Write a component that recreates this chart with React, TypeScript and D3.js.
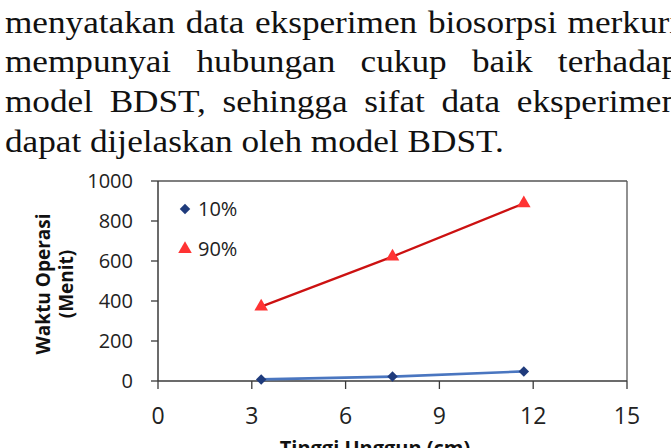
import React, { useLayoutEffect, useRef, useState } from "react";
import * as d3 from "d3";

// paragraph above the chart (justified, cut at the right edge)
const paraLines = [
  "menyatakan data eksperimen biosorpsi merkuri",
  "mempunyai hubungan cukup baik terhadap",
  "model BDST, sehingga sifat data eksperimen",
  "dapat dijelaskan oleh model BDST.",
];

// chart data
const bedHeights = [3.3, 7.5, 11.7];
const time10 = [8, 22, 48];
const time90 = [372, 622, 888];
const seriesNames = ["10%", "90%"];
const xTicks = [0, 3, 6, 9, 12, 15];
const yTicks = [0, 200, 400, 600, 800, 1000];

const W = 671;
const H = 448;
const SCALE_X = 1.1;
const TEXT_LEFT = 5;
const TEXT_RIGHT = 679;

const App: React.FC = () => {
  const lineRefs = useRef<(SVGTextElement | null)[]>([]);
  const [spacing, setSpacing] = useState<number[]>(paraLines.map(() => 0));

  // justify all lines but the last one
  useLayoutEffect(() => {
    const ws = paraLines.map((line, i) => {
      const el = lineRefs.current[i];
      if (!el || i === paraLines.length - 1) return 0;
      const natural = el.getComputedTextLength();
      const gaps = line.split(" ").length - 1;
      return Math.max(0, ((TEXT_RIGHT - TEXT_LEFT) / SCALE_X - natural) / gaps);
    });
    setSpacing(ws);
  }, []);

  const margin = { left: 158, right: 627, top: 181, bottom: 381 };
  const x = d3.scaleLinear().domain([0, 15]).range([margin.left, margin.right]);
  const y = d3.scaleLinear().domain([0, 1000]).range([margin.bottom, margin.top]);

  const line = d3
    .line<number>()
    .x((_, i) => x(bedHeights[i]))
    .y((d) => y(d));

  // excel-style diamond = square turned 45°
  const diamond = d3.symbol().type(d3.symbolSquare).size(55);
  const triangle = d3.symbol().type(d3.symbolTriangle).size(80);

  const axisColor = "#3a3a3a";
  const font = "'Open Sans', sans-serif";

  return (
    <svg
      width={W}
      height={H}
      style={{ position: "absolute", left: 0, top: 0, background: "#fff" }}
    >
      {/* paragraph */}
      {paraLines.map((t, i) => (
        <text
          key={i}
          ref={(el) => {
            lineRefs.current[i] = el;
          }}
          transform={`translate(${TEXT_LEFT},${32.5 + i * 39.8}) scale(${SCALE_X},1)`}
          fontFamily="'Liberation Serif', 'Times New Roman', serif"
          fontSize={32}
          fill="#111"
          wordSpacing={spacing[i]}
        >
          {t}
        </text>
      ))}

      {/* plot frame */}
      <line x1={margin.left} x2={margin.right} y1={margin.top} y2={margin.top} stroke="#555" strokeWidth={1.3} />
      <line x1={margin.right} x2={margin.right} y1={margin.top} y2={margin.bottom} stroke="#555" strokeWidth={1.3} />

      {/* y axis */}
      <line x1={margin.left} x2={margin.left} y1={margin.top} y2={margin.bottom} stroke={axisColor} strokeWidth={1.5} />
      {yTicks.map((t) => (
        <g key={t}>
          <line x1={margin.left - 7} x2={margin.left} y1={y(t)} y2={y(t)} stroke={axisColor} strokeWidth={1.3} />
          <text
            x={133}
            y={y(t)}
            dy="0.35em"
            textAnchor="end"
            fontFamily={font}
            fontSize={20}
            fill="#222"
          >
            {t}
          </text>
        </g>
      ))}

      {/* x axis */}
      <line x1={margin.left} x2={margin.right} y1={margin.bottom} y2={margin.bottom} stroke={axisColor} strokeWidth={1.5} />
      {xTicks.map((t) => (
        <g key={t}>
          <line x1={x(t)} x2={x(t)} y1={margin.bottom} y2={margin.bottom + 8} stroke={axisColor} strokeWidth={1.3} />
          <text
            x={x(t)}
            y={424}
            textAnchor="middle"
            fontFamily={font}
            fontSize={23}
            fill="#222"
          >
            {t}
          </text>
        </g>
      ))}

      {/* axis titles */}
      <text
        x={375}
        y={455}
        textAnchor="middle"
        fontFamily={font}
        fontWeight="bold"
        fontSize={20}
        fill="#111"
      >
        Tinggi Unggun (cm)
      </text>
      <text
        transform="translate(50,284) rotate(-90)"
        textAnchor="middle"
        fontFamily={font}
        fontWeight="bold"
        fontSize={19}
        fill="#111"
      >
        Waktu Operasi
      </text>
      <text
        transform="translate(73,284) rotate(-90)"
        textAnchor="middle"
        fontFamily={font}
        fontWeight="bold"
        fontSize={19}
        fill="#111"
      >
        (Menit)
      </text>

      {/* series lines */}
      <path d={line(time10) || ""} fill="none" stroke="#4a76c0" strokeWidth={2.6} />
      <path d={line(time90) || ""} fill="none" stroke="#cc1111" strokeWidth={2.2} />

      {/* markers */}
      {time10.map((v, i) => (
        <path
          key={`d${i}`}
          d={diamond() || ""}
          transform={`translate(${x(bedHeights[i])},${y(v)}) rotate(45)`}
          fill="#1f3b7c"
        />
      ))}
      {time90.map((v, i) => (
        <path
          key={`t${i}`}
          d={triangle() || ""}
          transform={`translate(${x(bedHeights[i])},${y(v)})`}
          fill="#ff3333"
        />
      ))}

      {/* legend */}
      <path d={diamond() || ""} transform="translate(185,209) rotate(45)" fill="#1f3b7c" />
      <text x={198} y={209} dy="0.35em" fontFamily={font} fontSize={20} fill="#222">
        {seriesNames[0]}
      </text>
      <path d={triangle() || ""} transform="translate(185,249)" fill="#ff3333" />
      <text x={198} y={249} dy="0.35em" fontFamily={font} fontSize={20} fill="#222">
        {seriesNames[1]}
      </text>
    </svg>
  );
};

export default App;
